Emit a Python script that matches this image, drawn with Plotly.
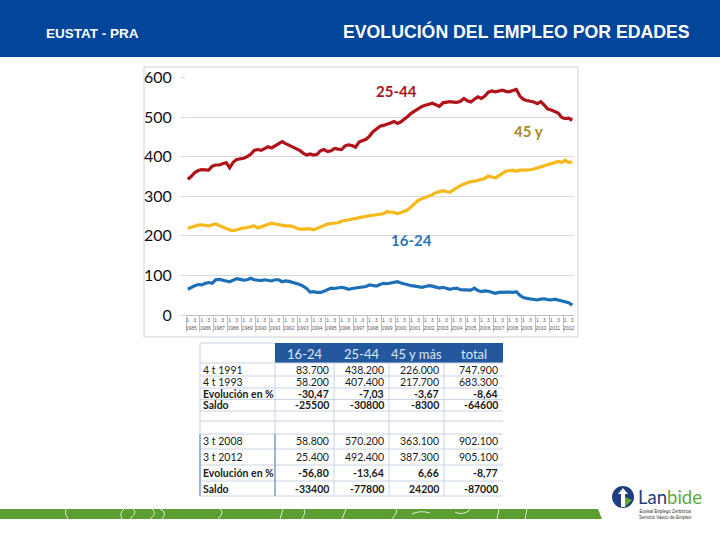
import plotly.graph_objects as go

W, H = 720, 540

years = [str(y) for y in range(1985, 2013)]
quarters = ["1", "2", "3", "4"]

age_16_24 = [65, 70, 74, 77, 76, 80, 82, 80, 89, 90, 89, 86, 84, 87, 92, 90,
             88, 89, 93, 89, 88, 87, 89, 87, 86, 89, 89, 84, 86, 85, 83, 80,
             77, 73, 67, 58, 59, 57, 57, 60, 65, 68, 67, 68, 70, 68, 65, 67,
             68, 69, 70, 72, 76, 74, 73, 77, 80, 79, 80, 82, 84, 81, 78, 76,
             74, 73, 71, 70, 72, 74, 73, 70, 68, 70, 67, 65, 67, 68, 64, 63,
             62, 63, 68, 62, 59, 61, 60, 57, 55, 57, 58, 59, 58, 57, 59, 50,
             44, 42, 41, 40, 38, 40, 41, 39, 38, 40, 38, 35, 34, 31, 25]
age_25_44 = [343, 350, 360, 365, 367, 366, 366, 376, 379, 379, 381, 385, 372, 386, 393, 394,
             396, 400, 406, 416, 418, 416, 420, 425, 422, 428, 433, 438, 433, 429, 425, 422,
             416, 409, 404, 407, 404, 406, 415, 418, 413, 415, 421, 419, 418, 427, 430, 428,
             424, 437, 440, 444, 452, 463, 470, 477, 479, 481, 485, 489, 484, 488, 494, 502,
             510, 516, 522, 527, 530, 533, 535, 531, 527, 536, 538, 539, 538, 537, 540, 547,
             541, 538, 545, 551, 547, 553, 563, 566, 564, 565, 568, 565, 564, 567, 570, 553,
             545, 542, 541, 538, 534, 539, 530, 520, 518, 514, 510, 499, 496, 497, 492]
age_45_plus = [219, 222, 225, 227, 228, 227, 225, 228, 230, 226, 222, 220, 215, 213, 216, 218,
               220, 221, 223, 225, 220, 223, 228, 230, 232, 230, 228, 226, 225, 225, 224, 220,
               217, 217, 217, 218, 215, 218, 223, 226, 230, 231, 232, 233, 237, 239, 239, 241,
               244, 246, 249, 250, 251, 252, 253, 255, 256, 261, 260, 259, 256, 258, 262, 266,
               274, 282, 290, 294, 297, 301, 304, 309, 311, 314, 312, 310, 316, 322, 327, 331,
               335, 337, 338, 340, 342, 345, 351, 349, 346, 352, 357, 363, 365, 366, 363, 366,
               366, 366, 367, 369, 372, 375, 377, 379, 384, 387, 388, 385, 391, 385, 387]

y_ticks = [0, 100, 200, 300, 400, 500, 600]

# table data
table_cols = ["16-24", "25-44", "45 y más", "total"]
table_rows = ["4 t 1991", "4 t 1993", "Evolución en %", "Saldo",
              "3 t 2008", "3 t 2012", "Evolución en %", "Saldo"]
table_vals = [
    ["83.700", "438.200", "226.000", "747.900"],
    ["58.200", "407.400", "217.700", "683.300"],
    ["-30,47", "-7,03", "-3,67", "-8,64"],
    ["-25500", "-30800", "-8300", "-64600"],
    ["58.800", "570.200", "363.100", "902.100"],
    ["25.400", "492.400", "387.300", "905.100"],
    ["-56,80", "-13,64", "6,66", "-8,77"],
    ["-33400", "-77800", "24200", "-87000"],
]
table_bold = [False, False, True, True, False, False, True, True]

# build x categories
x_years, x_q = [], []
for yr in years:
    for q in quarters:
        x_years.append(yr)
        x_q.append(q)
n = len(age_25_44)
x_years, x_q = x_years[:n], x_q[:n]


def px(x):
    return x / W


def py(y):
    return 1 - y / H


def ann(x, y, text, font, xanchor="center", yanchor="middle"):
    return dict(x=px(x), y=py(y), xref="paper", yref="paper", showarrow=False,
                xanchor=xanchor, yanchor=yanchor, text=text, font=font)


fig = go.Figure()
series = [(age_25_44, "#B0141A"), (age_45_plus, "#F6B81A"), (age_16_24, "#1E70B6")]
for vals, col in series:
    fig.add_trace(go.Scatter(x=[x_years, x_q], y=vals, mode="lines",
                             line=dict(color=col, width=3.2), showlegend=False,
                             hoverinfo="skip"))

shapes = []
annotations = []

# header band
shapes.append(dict(type="rect", xref="paper", yref="paper", x0=0, x1=1,
                   y0=py(57), y1=1, fillcolor="#01469A", line_width=0, layer="below"))
annotations.append(ann(44, 33, "<b>EUSTAT - PRA</b>",
                       dict(family="Liberation Sans", size=13.5, color="white"), xanchor="left"))
annotations.append(ann(692, 32, "<b>EVOLUCIÓN DEL EMPLEO POR EDADES</b>",
                       dict(family="Liberation Sans", size=17.7, color="white"), xanchor="right"))

# chart frame
shapes.append(dict(type="rect", xref="paper", yref="paper", x0=px(144), x1=px(578),
                   y0=py(337), y1=py(67), line=dict(color="#D0D0D0", width=1),
                   fillcolor="rgba(0,0,0,0)", layer="below"))

# series labels
annotations.append(ann(396, 91, "<b>25-44</b>", dict(family="Lato", size=15, color="#A8141C")))
annotations.append(ann(528, 131, "<b>45 y</b>", dict(family="Lato", size=15, color="#A88A2C")))
annotations.append(ann(411, 240, "<b>16-24</b>", dict(family="Lato", size=15, color="#2E75B6")))

# table
tl, tr = 200, 503
hdr_top, hdr_bot = 343, 363
col_edges = [275, 334, 389, 444, 503]
row_bounds = [(364, 376), (376, 388), (388, 399.5), (399.5, 411),
              (434, 449), (449, 465), (465, 481), (481, 496)]
grid_col = "#C9D4E4"
shapes.append(dict(type="rect", xref="paper", yref="paper", x0=px(col_edges[0]), x1=px(tr),
                   y0=py(hdr_bot), y1=py(hdr_top), fillcolor="#23589F", line_width=0))
shapes.append(dict(type="line", xref="paper", yref="paper", x0=px(tl), x1=px(col_edges[0]),
                   y0=py(hdr_top), y1=py(hdr_top), line=dict(color=grid_col, width=1)))
hlines = [hdr_bot, 376, 388, 399.5, 411, 421, 434, 449, 465, 481, 496]
for yv in hlines:
    shapes.append(dict(type="line", xref="paper", yref="paper", x0=px(tl), x1=px(tr),
                       y0=py(yv), y1=py(yv), line=dict(color=grid_col, width=1)))
for xv in col_edges[:-1] + [tl]:
    shapes.append(dict(type="line", xref="paper", yref="paper", x0=px(xv), x1=px(xv),
                       y0=py(496), y1=py(hdr_top if xv == tl else hdr_bot),
                       line=dict(color=grid_col, width=1)))
shapes.append(dict(type="line", xref="paper", yref="paper", x0=px(tl), x1=px(tl),
                   y0=py(496), y1=py(434), line=dict(color="#5A7FB5", width=1)))
shapes.append(dict(type="line", xref="paper", yref="paper", x0=px(col_edges[0]), x1=px(col_edges[0]),
                   y0=py(496), y1=py(434), line=dict(color="#5A7FB5", width=1)))

for j, c in enumerate(table_cols):
    cx = (col_edges[j] + col_edges[j + 1]) / 2
    annotations.append(ann(cx, 353.5, c, dict(family="Lato", size=13, color="#DCE6F4")))
for i, lab in enumerate(table_rows):
    y0, y1 = row_bounds[i]
    yc = (y0 + y1) / 2
    b = table_bold[i]
    annotations.append(ann(tl + 1, yc, ("<b>%s</b>" % lab) if b else lab,
                           dict(family="Lato", size=10.5, color="#1A1A1A"), xanchor="left"))
    for j, v in enumerate(table_vals[i]):
        annotations.append(ann(col_edges[j + 1] - 3, yc, ("<b>%s</b>" % v) if b else v,
                               dict(family="Lato", size=10.5, color="#1A1A1A"), xanchor="right"))

# green band at bottom
shapes.append(dict(type="path", xref="paper", yref="paper",
                   path="M 0 %f L %f %f L %f %f L 0 %f Z" % (py(509), px(598), py(509), px(602), py(519), py(519)),
                   fillcolor="#5B9E31", line_width=0))
deco = ["M 68 519 Q 64 514 66 509", "M 122 519 Q 119 513 124 509", "M 130 519 Q 138 512 133 509",
        "M 150 519 Q 158 513 152 509", "M 162 519 Q 168 512 160 509", "M 218 519 Q 225 512 220 509",
        "M 280 519 L 283 509", "M 302 519 Q 306 513 304 509", "M 342 519 L 346 509",
        "M 392 519 Q 398 512 396 509", "M 412 514 Q 420 510 430 513", "M 455 512 Q 462 516 470 510",
        "M 497 519 L 499 509", "M 525 519 L 527 509"]
for d in deco:
    pts = d.split()
    conv = []
    k = 0
    while k < len(pts):
        t = pts[k]
        if t in ("M", "L", "Q"):
            conv.append(t)
            k += 1
        else:
            conv.append("%f %f" % (px(float(pts[k])), py(float(pts[k + 1]))))
            k += 2
    shapes.append(dict(type="path", xref="paper", yref="paper", path=" ".join(conv),
                       line=dict(color="rgba(255,255,255,0.8)", width=1)))

# logo
shapes.append(dict(type="circle", xref="paper", yref="paper", x0=px(612), x1=px(634),
                   y0=py(508), y1=py(486), fillcolor="#1F3F7E", line_width=0))
shapes.append(dict(type="path", xref="paper", yref="paper",
                   path="M %f %f L %f %f L %f %f L %f %f L %f %f L %f %f L %f %f Z" % (
                       px(623), py(488), px(628), py(494), px(625), py(494), px(625), py(507),
                       px(621), py(507), px(621), py(494), px(618), py(494)),
                   fillcolor="white", line_width=0))
shapes.append(dict(type="path", xref="paper", yref="paper",
                   path="M %f %f L %f %f L %f %f Z" % (px(625), py(497), px(632), py(500), px(625), py(507)),
                   fillcolor="#5FA83A", line_width=0))
annotations.append(ann(636, 497,
                       "<span style='color:#1F3F7E'>Lan</span><span style='color:#62A83C'>bide</span>",
                       dict(family="Lato", size=18.5), xanchor="left"))
annotations.append(ann(637, 514, "Euskal Enplegu Zerbitzua<br>Servicio Vasco de Empleo",
                       dict(family="Liberation Sans", size=4.5, color="#333333"), xanchor="left"))

fig.update_layout(
    width=W, height=H, margin=dict(l=0, r=0, t=0, b=0, pad=0),
    paper_bgcolor="white", plot_bgcolor="white",
    shapes=shapes, annotations=annotations,
    xaxis=dict(type="multicategory", domain=[px(186), px(574)], range=[-0.5, n - 0.5],
               showgrid=False, showline=True, linecolor="#BFBFBF", linewidth=1,
               tickfont=dict(family="Liberation Sans", size=5, color="#595959"),
               tickangle=0,
               dividercolor="#BFBFBF", dividerwidth=1, automargin=False,
               ticks="", fixedrange=True),
    yaxis=dict(domain=[py(315), py(77.5)], range=[0, 600], tickvals=y_ticks,
               showgrid=True, gridcolor="#D9D9D9", gridwidth=1, zeroline=False,
               showline=False, ticks="outside", ticklen=4, tickcolor="#D9D9D9",
               tickfont=dict(family="Lato", size=16, color="#111111"),
               ticklabelstandoff=6, automargin=False),
)

fig.write_html("out.html")
